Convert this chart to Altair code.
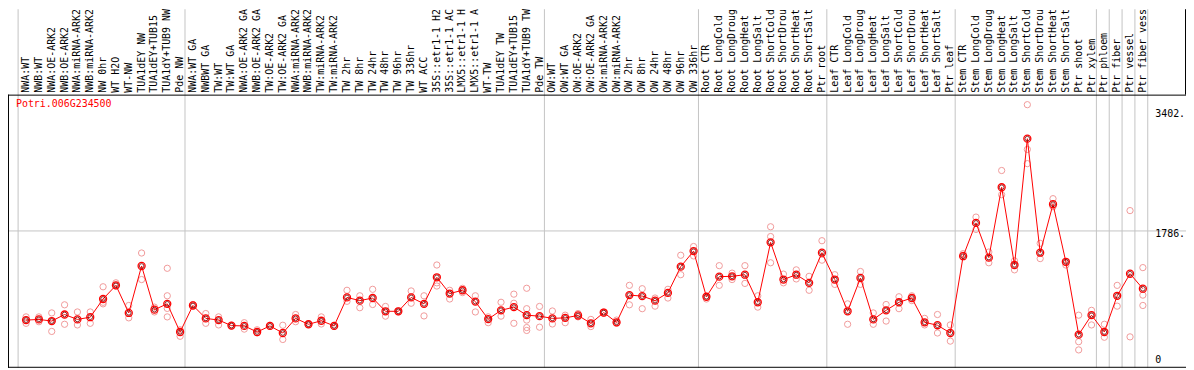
import altair as alt
import pandas as pd
import numpy as np

gene = "Potri.006G234500"

labels = [
    "NWA:WT", "NWB:WT", "NWA:OE-ARK2", "NWB:OE-ARK2", "NWA:miRNA-ARK2", "NWB:miRNA-ARK2",
    "NW 0hr", "WT H2O", "WT-NW", "TUA1dEY NW", "TUA1dEY+TUB15", "TUA1dY+TUB9 NW", "Pde NW",
    "NWA:WT GA", "NWBWT GA", "TW:WT", "TW:WT GA", "NWA:OE-ARK2 GA", "NWB:OE-ARK2 GA",
    "TW:OE-ARK2", "TW:OE-ARK2 GA", "NWA:miRNA-ARK2", "NWB:miRNA-ARK2", "TW:miRNA-ARK2",
    "TW:miRNA-ARK2", "TW 2hr", "TW 8hr", "TW 24hr", "TW 48hr", "TW 96hr", "TW 336hr",
    "WT ACC", "35S::etr1-1 H2", "35S::etr1-1 AC", "LMX5::etr1-1 H", "LMX5::etr1-1 A",
    "WT-TW", "TUA1dEY TW", "TUA1dEY+TUB15", "TUA1dY+TUB9 TW", "Pde TW",
    "OW:WT", "OW:WT GA", "OW:OE-ARK2", "OW:OE-ARK2 GA", "OW:miRNA-ARK2", "OW:miRNA-ARK2",
    "OW 2hr", "OW 8hr", "OW 24hr", "OW 48hr", "OW 96hr", "OW 336hr",
    "Root CTR", "Root LongCold", "Root LongDroug", "Root LongHeat", "Root LongSalt",
    "Root ShortCold", "Root ShortDrou", "Root ShortHeat", "Root ShortSalt", "Ptr root",
    "Leaf CTR", "Leaf LongCold", "Leaf LongDroug", "Leaf LongHeat", "Leaf LongSalt",
    "Leaf ShortCold", "Leaf ShortDrou", "Leaf ShortHeat", "Leaf ShortSalt", "Ptr leaf",
    "Stem CTR", "Stem LongCold", "Stem LongDroug", "Stem LongHeat", "Stem LongSalt",
    "Stem ShortCold", "Stem ShortDrou", "Stem ShortHeat", "Stem ShortSalt", "Ptr shoot",
    "Ptr xylem", "Ptr phloem", "Ptr fiber", "Ptr vessel", "Ptr fiber vess",
]

group_sizes = [13, 28, 12, 10, 10, 11, 1, 1, 1, 1]

means = [
    590, 599, 577, 665, 599, 629, 873, 1056, 686, 1316, 730, 808, 430,
    786, 613, 590, 516, 512, 430, 512, 417, 613, 534, 581, 512, 894, 851, 886, 708, 708,
    894, 808, 1164, 946, 990, 838, 603, 721, 764, 656, 643,
    613, 620, 652, 547, 691, 560, 925, 912, 851, 955, 1307, 1516,
    903, 1173, 1177, 1199, 829, 1633, 1134, 1199, 1090, 1494,
    1134, 708, 1155, 599, 721, 829, 886, 560, 521, 417,
    1447, 1894, 1428, 2372, 1329, 3024, 1494, 2145, 1372, 395, 656,
    430, 916, 1212, 1011,
]

replicates = [
    [633, 547, 590], [633, 568], [686, 438, 577], [795, 534], [699, 525], [699, 547],
    [1037, 808, 829], [1090, 1047], [786, 620], [1490, 1134], [764, 699],
    [1285, 916, 747, 633], [460, 373],
    [780, 800], [678, 547], [633, 525], [520, 510], [555, 469], [460, 420], [505, 520],
    [521, 330], [665, 568], [530, 540], [633, 538], [505, 520], [990, 842], [916, 756],
    [1003, 799], [773, 643], [700, 715], [981, 816], [916, 646], [1329, 1090, 1047],
    [990, 873], [1017, 959], [916, 699], [633, 555], [829, 643], [938, 816, 547],
    [1017, 743, 590, 490, 451], [773, 495],
    [712, 538], [656, 555], [678, 633], [599, 503], [700, 680], [590, 547], [1056, 795],
    [1011, 743], [886, 777], [1003, 886], [1460, 1199], [1577, 1451],
    [873, 910], [1320, 1056], [1220, 1134], [1320, 1082], [916, 764], [1842, 1711, 1359],
    [1207, 1090], [1264, 1142], [1177, 990], [1655, 1394],
    [1199, 1069], [808, 534], [1242, 1069], [686, 534], [799, 577], [903, 743],
    [916, 851], [613, 525], [665, 417], [525, 308],
    [1481, 1460], [1972, 1807], [1503, 1359], [2597, 2272], [1385, 1264],
    [3480, 2880, 2689], [1620, 1415], [2219, 2111], [1329, 1360], [656, 300, 190],
    [721, 525], [534, 360], [1056, 777], [2059, 365], [1294, 925, 786],
]

y_ticks = [3402, 1786]
y_tick_text = ["3402.", "1786."]
zero_tick = [0]
zero_text = ["0"]
grid_value = 1786

# ---------------- layout ----------------
W, H = 1186, 362
XMIN, XMAX = -1.4075, 90.36
YMIN, YMAX = -63.2, 4760.8
FONT = "DejaVu Sans Mono"
BAND = 86  # bottom of label band (px)

xs = alt.Scale(domain=[XMIN, XMAX], nice=False, zero=False)
ys = alt.Scale(domain=[YMIN, YMAX], nice=False, zero=False)

idx = list(range(len(labels)))
df_mean = pd.DataFrame({"idx": idx, "label": labels, "mean": means})
rows = []
for i, reps in enumerate(replicates):
    for v in reps:
        rows.append({"idx": i, "value": v})
df_rep = pd.DataFrame(rows)

ends = np.cumsum(group_sizes) - 1
seps = [-1 + 0.38] + [e + 0.38 for e in ends]
df_sep = pd.DataFrame({"sx": seps})

df_ticks = pd.DataFrame({"v": y_ticks, "t": y_tick_text})
df_zero = pd.DataFrame({"v": zero_tick, "t": zero_text})
df_grid = pd.DataFrame({"v": [grid_value]})
df_gene = pd.DataFrame({"t": [gene]})

X = lambda f: alt.X(f, type="quantitative", scale=xs, axis=None)
Y = lambda f: alt.Y(f, type="quantitative", scale=ys, axis=None)

sep = alt.Chart(df_sep).mark_rule(color="#c4c4c4", strokeWidth=1).encode(
    x=X("sx"), y=alt.value(0), y2=alt.value(361)
)

grid = alt.Chart(df_grid).mark_rule(color="#c4c4c4", strokeWidth=1).encode(
    y=Y("v"), x=alt.value(0), x2=alt.value(W)
)

frame_top = alt.Chart(df_gene).mark_rule(color="black", strokeWidth=1).encode(
    x=alt.value(0), x2=alt.value(W), y=alt.value(BAND + 0.5)
)
frame_bottom = alt.Chart(df_gene).mark_rule(color="black", strokeWidth=1).encode(
    x=alt.value(0), x2=alt.value(W), y=alt.value(360.5)
)
frame_left = alt.Chart(df_gene).mark_rule(color="black", strokeWidth=1).encode(
    x=alt.value(0.5), y=alt.value(BAND), y2=alt.value(361)
)
frame_right = alt.Chart(df_gene).mark_rule(color="black", strokeWidth=1).encode(
    x=alt.value(W - 0.5), y=alt.value(0), y2=alt.value(BAND)
)

label_text = alt.Chart(df_mean).mark_text(
    angle=270, align="left", baseline="middle", font=FONT, fontSize=10, color="black"
).encode(x=X("idx"), y=alt.value(BAND - 2), text="label:N")

gene_text = alt.Chart(df_gene).mark_text(
    align="left", baseline="middle", font=FONT, fontSize=10, color="#ff0000"
).encode(x=alt.value(8), y=alt.value(95), text="t:N")

tick_text = alt.Chart(df_ticks).mark_text(
    align="left", baseline="middle", dy=3.4, font=FONT, fontSize=10, color="black"
).encode(x=alt.value(1155), y=Y("v"), text="t:N")

zero_label = alt.Chart(df_zero).mark_text(
    align="left", baseline="middle", dy=-3.6, font=FONT, fontSize=10, color="black"
).encode(x=alt.value(1155), y=Y("v"), text="t:N")

rep_pts = alt.Chart(df_rep).mark_point(
    shape="circle", filled=False, size=40, strokeWidth=1, color="#f09a9a", opacity=1
).encode(x=X("idx"), y=Y("value"))

line = alt.Chart(df_mean).mark_line(color="#ff0000", strokeWidth=1).encode(
    x=X("idx"), y=Y("mean")
)

mean_outer = alt.Chart(df_mean).mark_point(
    shape="circle", filled=False, size=50, strokeWidth=1.3, color="#ff0000", opacity=1
).encode(x=X("idx"), y=Y("mean"))

mean_inner = alt.Chart(df_mean).mark_point(
    shape="circle", filled=False, size=22, strokeWidth=0.8, color="#700000", opacity=1
).encode(x=X("idx"), y=Y("mean"))

chart = alt.layer(
    sep, grid, frame_top, frame_bottom, frame_left, frame_right,
    label_text, gene_text, tick_text, zero_label,
    rep_pts, line, mean_outer, mean_inner,
).properties(
    width=W, height=H, padding=0, autosize=alt.AutoSizeParams(type="none"),
    background="white",
).configure_view(stroke=None)

chart.save("out.html", embed_options={"renderer": "svg", "actions": False})
